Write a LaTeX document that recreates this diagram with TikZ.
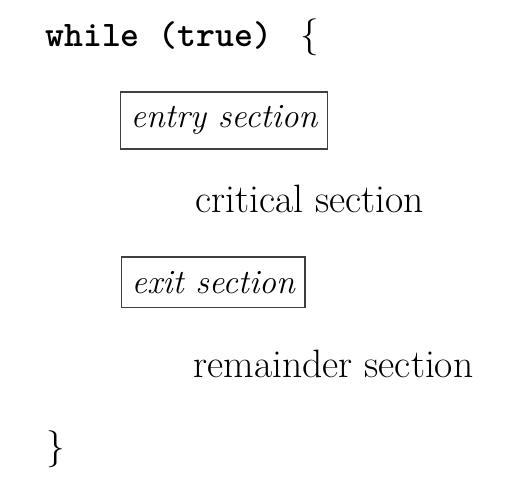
\documentclass[tikz,border=0pt]{standalone}
\usepackage{tikz}

\begin{document}
\begin{tikzpicture}[x=0.5pt, y=-0.5pt]

	% --- STYLES ---
	\tikzstyle{code} = [anchor=base west, inner sep=0pt, font=\fontsize{18}{22}\selectfont\ttfamily\bfseries]
	\tikzstyle{plain} = [anchor=base west, inner sep=0pt, font=\fontsize{19.8}{24}\selectfont]
	\tikzstyle{brace} = [anchor=base west, inner sep=0pt, font=\fontsize{18.5}{22}\selectfont]
	\tikzstyle{framed} = [rectangle, anchor=base west, draw=black!75, line width=0.7pt, inner xsep=5pt, inner ysep=7pt, font=\fontsize{17}{20}\selectfont\itshape]

	\useasboundingbox (0,0) rectangle (520,492);

	% --- NODES ---
	\node (loop) [code] at (45,47) {while (true)\hspace{14pt}{\rmfamily\mdseries\fontsize{18.5}{22}\selectfont\{}};

	\node (entry) [framed] at (120,128) {entry section};

	\node (critical) [plain] at (195,213) {critical section};

	\node (exit) [framed] at (121,293) {exit section};

	\node (remainder) [plain] at (193,377) {remainder section};

	\node (close) [brace] at (46,458) {\}};

\end{tikzpicture}
\end{document}
